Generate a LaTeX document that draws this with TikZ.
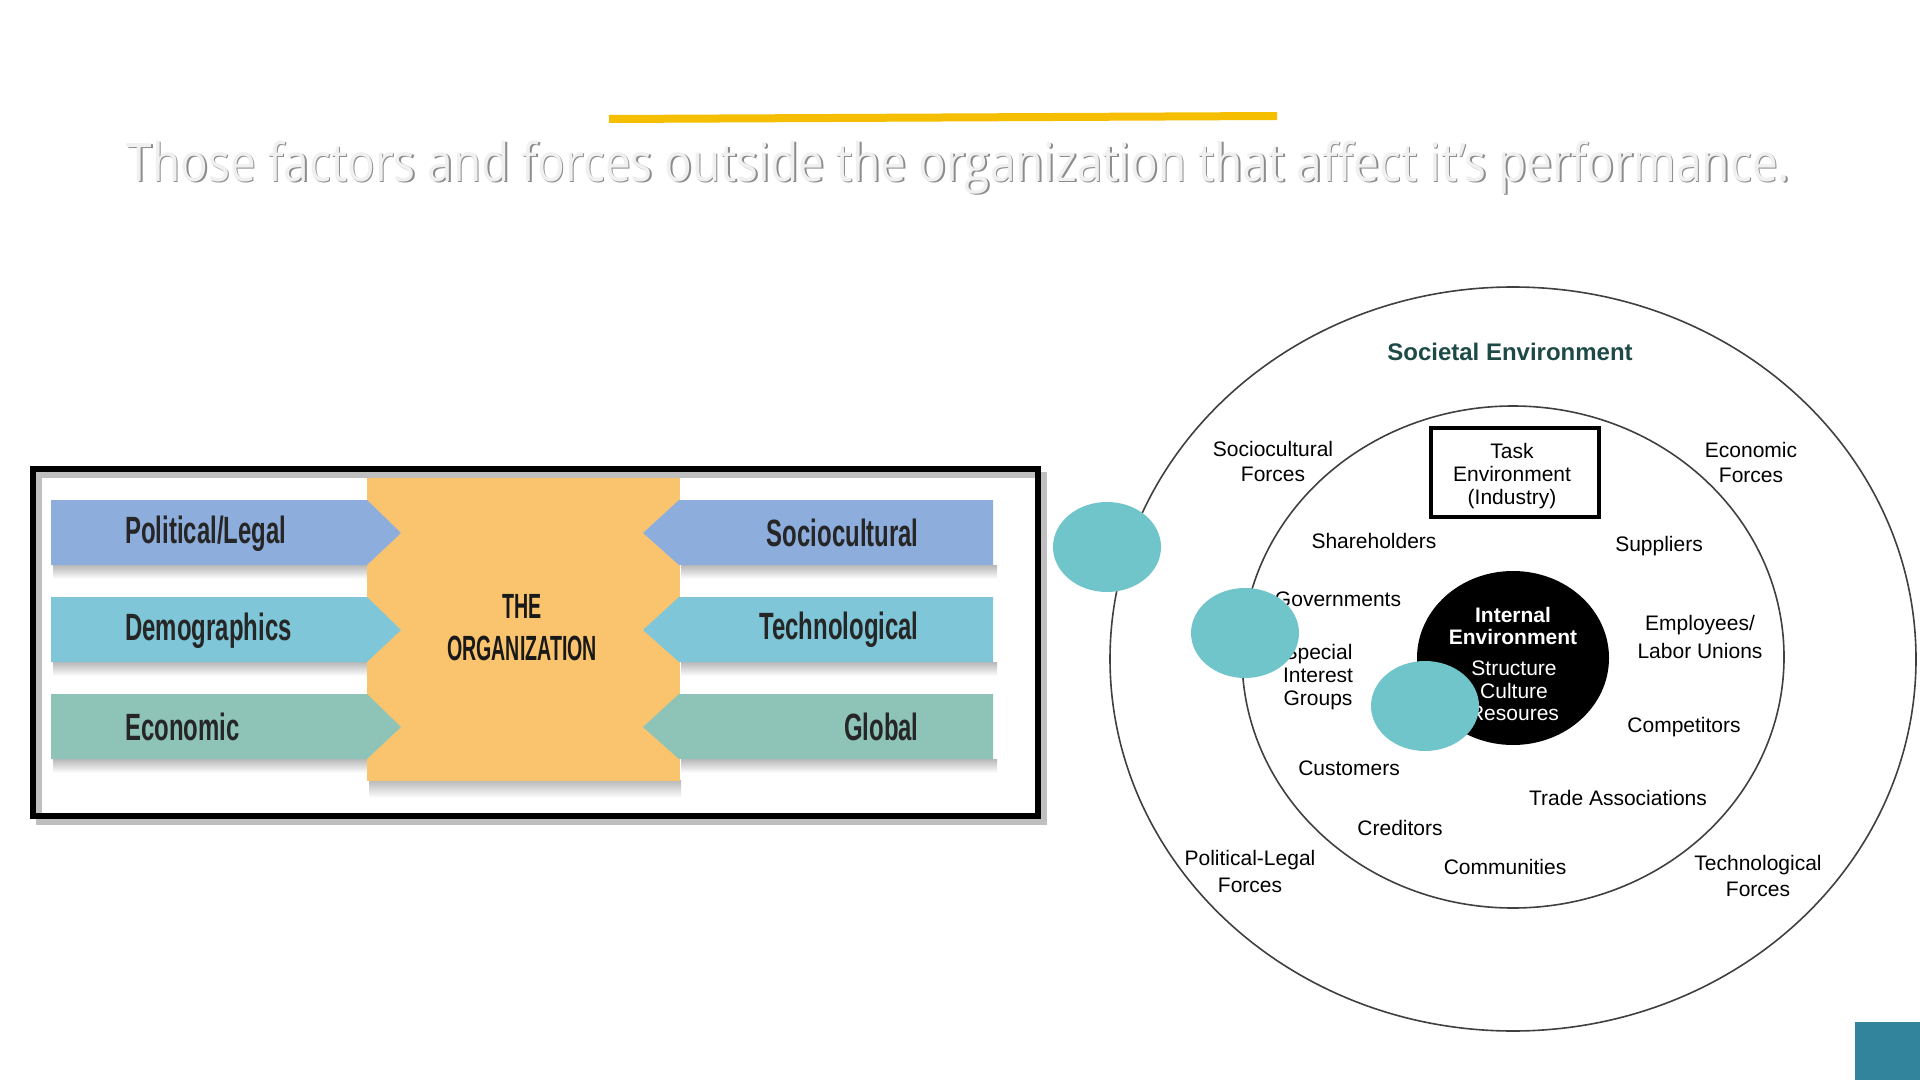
\documentclass[tikz,border=0pt]{standalone}
\usepackage{fontspec}
\setmainfont{Liberation Sans}
\newfontfamily\titlefont{Open Sans}
\usepackage{graphicx}
\definecolor{barY}{HTML}{F5BE00}
\definecolor{arBlue}{HTML}{8DAEDC}
\definecolor{arCyan}{HTML}{7EC6D8}
\definecolor{arGreen}{HTML}{8EC3B8}
\definecolor{orgOr}{HTML}{FAC46E}
\definecolor{tealC}{HTML}{70C5CA}
\definecolor{sqTeal}{HTML}{31849B}
\definecolor{socTxt}{HTML}{1D4A47}
\definecolor{ringC}{HTML}{404040}
\tikzset{
  lbl/.style={font=\fontsize{10.5}{12.5}\selectfont, align=center, inner sep=0pt},
  arrtxt/.style={font=\fontsize{19}{21}\selectfont\bfseries, inner sep=0pt, text=black!85},
  arrshadow/.style={top color=black!28, bottom color=white},
  ring/.style={draw=ringC, line width=0.8pt},
  tealdot/.style={fill=tealC},
}
\newcommand{\cnd}[1]{\scalebox{0.63}[1]{#1}}
\begin{document}
\begin{tikzpicture}[x=0.5pt,y=-0.5pt]
\useasboundingbox[fill=white] (0,0) rectangle (1920,1080);

% ---------- title ----------
\draw[barY, line width=4pt] (609,119) -- (1277,116);
\node[font=\titlefont\fontsize{26.5}{30}\selectfont, text=black!45, inner sep=0pt] (titleshadow) at (960,169)
  {\scalebox{0.868}[1]{Those factors and forces outside the organization that affect it’s performance.}};
\node[font=\titlefont\fontsize{26.5}{30}\selectfont, text=black!6, inner sep=0pt] (title) at (958.5,167.5)
  {\scalebox{0.868}[1]{Those factors and forces outside the organization that affect it’s performance.}};

% ---------- left framed picture ----------
\draw[black!25, line width=3pt] (39,475) rectangle (1044,822);
\draw[black, line width=2.6pt] (33,469) rectangle (1038,816);

% shadows
\foreach \b in {565,662,759}{
  \shade[arrshadow] (53,\b) rectangle (369,\b+14);
  \shade[arrshadow] (681,\b) rectangle (997,\b+14);
}
\shade[arrshadow] (369,780) rectangle (681,798);

% organization block
\fill[orgOr] (367,478) rectangle (680,781);
\node[font=\fontsize{17.5}{21}\selectfont\bfseries, align=center, inner sep=0pt, text=black!90] (org) at (522,628)
  {\scalebox{0.56}[1]{THE}\\\scalebox{0.56}[1]{ORGANIZATION}};

% left arrows
\fill[arBlue]  (51,500) -- (367,500) -- (401,533) -- (367,565) -- (51,565) -- cycle;
\fill[arCyan]  (51,597) -- (367,597) -- (401,630) -- (367,662) -- (51,662) -- cycle;
\fill[arGreen] (51,694) -- (367,694) -- (401,727) -- (367,759) -- (51,759) -- cycle;
% right arrows
\fill[arBlue]  (993,500) -- (679,500) -- (643,533) -- (679,565) -- (993,565) -- cycle;
\fill[arCyan]  (993,597) -- (679,597) -- (643,630) -- (679,662) -- (993,662) -- cycle;
\fill[arGreen] (993,694) -- (679,694) -- (643,727) -- (679,759) -- (993,759) -- cycle;

\node[arrtxt, anchor=west] (pl)   at (125,534) {\cnd{Political/Legal}};
\node[arrtxt, anchor=west] (demo) at (125,631) {\cnd{Demographics}};
\node[arrtxt, anchor=west] (econ) at (125,727) {\cnd{Economic}};
\node[arrtxt, anchor=east] (soc)  at (919,533) {\cnd{Sociocultural}};
\node[arrtxt, anchor=east] (tech) at (919,630) {\cnd{Technological}};
\node[arrtxt, anchor=east] (glob) at (919,727) {\cnd{Global}};

% ---------- environment diagram ----------
\draw[ring] (1513,659) ellipse [x radius=403, y radius=372];
\draw[ring] (1513,657) ellipse [x radius=271, y radius=251];
\fill[black] (1513,658) ellipse [x radius=96, y radius=87];
\draw[black, line width=1.6pt] (1431,428) rectangle (1599,517);

\node[font=\fontsize{12}{14}\selectfont\bfseries, text=socTxt, inner sep=0pt] (societal) at (1510,352) {Societal Environment};
\node[lbl] (sf)   at (1273,461) {Sociocultural\\Forces};
\node[lbl] (ef)   at (1751,462) {Economic\\Forces};
\node[lbl, font=\fontsize{10.5}{11.3}\selectfont] (task) at (1512,476) {Task\\Environment\\(Industry)};
\node[lbl] (share) at (1374,541) {Shareholders};
\node[lbl] (supp)  at (1659,546) {Suppliers};
\node[lbl] (gov)   at (1338,599) {Governments};
\node[lbl, text=white, font=\fontsize{10.5}{11}\selectfont\bfseries] (internal) at (1513,626) {Internal\\Environment};
\node[lbl, text=white, font=\fontsize{10.5}{11.3}\selectfont] (struct) at (1514,691) {Structure\\Culture\\Resoures};
\node[lbl, font=\fontsize{10.5}{14}\selectfont] (emp) at (1700,637) {Employees/\\Labor Unions};
\node[lbl, font=\fontsize{10.5}{11.3}\selectfont] (sig) at (1318,677) {Special\\Interest\\Groups};
\node[lbl] (comp)  at (1684,727) {Competitors};
\node[lbl] (cust)  at (1349,768) {Customers};
\node[lbl] (trade) at (1618,798) {Trade Associations};
\node[lbl] (cred)  at (1400,828) {Creditors};
\node[lbl] (comm)  at (1505,867) {Communities};
\node[lbl, font=\fontsize{10.5}{13.5}\selectfont] (plf) at (1250,871) {Political-Legal\\Forces};
\node[lbl, font=\fontsize{10.5}{13}\selectfont] (tf)  at (1758,876) {Technological\\Forces};

% teal dots
\fill[tealdot] (1107,547) ellipse [x radius=54, y radius=45];
\fill[tealdot] (1245,633) ellipse [x radius=54, y radius=45];
\fill[tealdot] (1425,706) ellipse [x radius=54, y radius=45];

% corner square
\fill[sqTeal] (1855,1022) rectangle (1920,1080);
\end{tikzpicture}
\end{document}
